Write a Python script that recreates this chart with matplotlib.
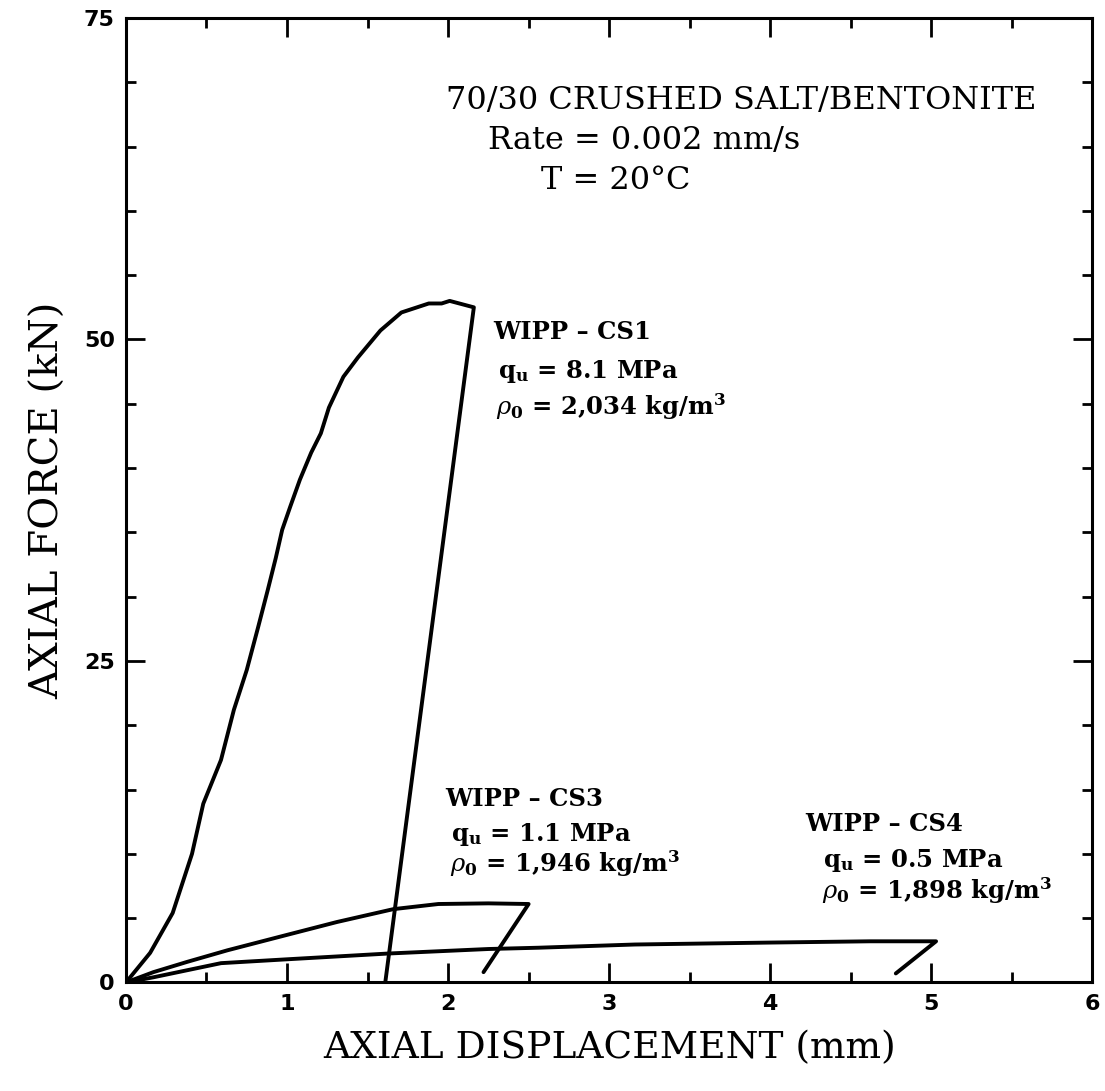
import numpy as np
import matplotlib.pyplot as plt
from matplotlib.ticker import MultipleLocator

plt.rcParams['mathtext.fontset'] = 'dejavuserif'

# Load-displacement traces (mm, kN) for the three specimens
cs1_disp = [0.0, 0.15, 0.29, 0.41, 0.48, 0.59, 0.67, 0.75, 0.82, 0.88, 0.93,
            0.97, 1.02, 1.08, 1.15, 1.21, 1.26, 1.35, 1.44, 1.58, 1.71, 1.88,
            1.96, 2.01, 2.16, 1.61]
cs1_force = [0.0, 2.3, 5.4, 10.0, 13.9, 17.3, 21.2, 24.3, 27.6, 30.5, 33.0,
             35.2, 37.0, 39.1, 41.2, 42.7, 44.7, 47.1, 48.6, 50.7, 52.1, 52.8,
             52.8, 53.0, 52.5, 0.0]

cs3_disp = [0.0, 0.17, 0.38, 0.63, 1.0, 1.31, 1.66, 1.94, 2.25, 2.50, 2.22]
cs3_force = [0.0, 0.8, 1.6, 2.5, 3.7, 4.7, 5.7, 6.1, 6.15, 6.1, 0.8]

cs4_disp = [0.0, 0.17, 0.59, 1.0, 1.63, 2.25, 2.56, 3.16, 3.99, 4.62, 5.03, 4.78]
cs4_force = [0.0, 0.4, 1.5, 1.8, 2.25, 2.6, 2.7, 2.95, 3.1, 3.2, 3.2, 0.7]

x_ticks = [0, 1, 2, 3, 4, 5, 6]
y_ticks = [0, 25, 50, 75]

fig = plt.figure(figsize=(11.05, 10.91), dpi=100)
ax = fig.add_axes([0.114, 0.0995, 0.8745, 0.884])

for xs, ys in [(cs1_disp, cs1_force), (cs3_disp, cs3_force), (cs4_disp, cs4_force)]:
    ax.plot(xs, ys, color='black', linewidth=2.8, solid_joinstyle='round',
            solid_capstyle='round')

ax.set_xlim(0, 6)
ax.set_ylim(0, 75)
ax.set_xticks(x_ticks)
ax.set_yticks(y_ticks)
ax.xaxis.set_minor_locator(MultipleLocator(0.5))
ax.yaxis.set_minor_locator(MultipleLocator(5))
ax.tick_params(which='both', direction='in', top=True, right=True, width=2,
               color='black')
ax.tick_params(which='major', length=14, pad=8)
ax.tick_params(which='minor', length=7)
for spine in ax.spines.values():
    spine.set_linewidth(2.2)

for lab in ax.get_xticklabels() + ax.get_yticklabels():
    lab.set_fontfamily('DejaVu Sans')
    lab.set_fontweight('bold')
    lab.set_fontsize(16)

ax.set_xlabel("AXIAL DISPLACEMENT (mm)", fontsize=27, family='DejaVu Serif',
              labelpad=12)
ax.set_ylabel("AXIAL FORCE (kN)", fontsize=29, family='DejaVu Serif',
              labelpad=12)

# Test conditions
hdr = dict(fontsize=23, family='DejaVu Serif', ha='left', va='center')
ax.text(1.99, 68.6, "70/30 CRUSHED SALT/BENTONITE", **hdr)
ax.text(2.25, 65.5, "Rate = 0.002 mm/s", **hdr)
ax.text(2.58, 62.4, "T = 20°C", **hdr)

# Specimen annotations
ann = dict(fontsize=17.5, family='DejaVu Serif', fontweight='bold',
           ha='left', va='center')
ax.text(2.28, 50.6, "WIPP – CS1", **ann)
ax.text(2.31, 47.5, r"q$_\mathbf{u}$ = 8.1 MPa", **ann)
ax.text(2.30, 44.8, r"$\rho_\mathbf{0}$ = 2,034 kg/m$^\mathbf{3}$", **ann)

ax.text(1.98, 14.3, "WIPP – CS3", **ann)
ax.text(2.02, 11.5, r"q$_\mathbf{u}$ = 1.1 MPa", **ann)
ax.text(2.01, 9.2, r"$\rho_\mathbf{0}$ = 1,946 kg/m$^\mathbf{3}$", **ann)

ax.text(4.22, 12.3, "WIPP – CS4", **ann)
ax.text(4.33, 9.5, r"q$_\mathbf{u}$ = 0.5 MPa", **ann)
ax.text(4.32, 7.1, r"$\rho_\mathbf{0}$ = 1,898 kg/m$^\mathbf{3}$", **ann)

fig.savefig("out.png", dpi=100)
